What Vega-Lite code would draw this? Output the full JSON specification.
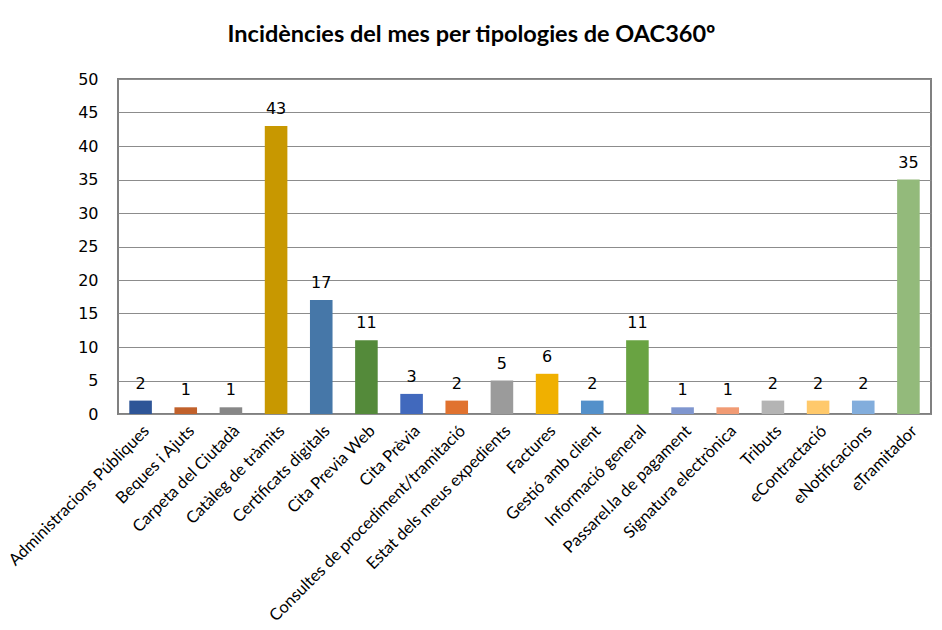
{
  "$schema": "https://vega.github.io/schema/vega-lite/v6.json",
  "width": 813,
  "height": 335,
  "autosize": "none",
  "padding": {"left": 118, "top": 79, "right": 11, "bottom": 216},
  "background": "white",
  "title": {
    "text": "Incidències del mes per tipologies de OAC360º",
    "font": "Lato",
    "fontSize": 23.5,
    "fontWeight": "bold",
    "color": "#000000",
    "anchor": "middle",
    "dx": -53,
    "offset": 25
  },
  "config": {
    "view": {"stroke": "#808080", "strokeWidth": 2},
    "axis": {"domain": false, "ticks": false}
  },
  "data": {
    "values": [
      {"cat": "Administracions Públiques", "v": 2, "c": "#2E5597"},
      {"cat": "Beques i Ajuts", "v": 1, "c": "#C1612B"},
      {"cat": "Carpeta del Ciutadà", "v": 1, "c": "#878787"},
      {"cat": "Catàleg de tràmits", "v": 43, "c": "#C89800"},
      {"cat": "Certificats digitals", "v": 17, "c": "#4677A8"},
      {"cat": "Cita Previa Web", "v": 11, "c": "#548A3A"},
      {"cat": "Cita Prèvia", "v": 3, "c": "#4169BD"},
      {"cat": "Consultes de procediment/tramitació", "v": 2, "c": "#E0722F"},
      {"cat": "Estat dels meus expedients", "v": 5, "c": "#9B9B9B"},
      {"cat": "Factures", "v": 6, "c": "#F0B000"},
      {"cat": "Gestió amb client", "v": 2, "c": "#5390CA"},
      {"cat": "Informació general", "v": 11, "c": "#69A342"},
      {"cat": "Passarel.la de pagament", "v": 1, "c": "#7F96CF"},
      {"cat": "Signatura electrònica", "v": 1, "c": "#F19B74"},
      {"cat": "Tributs", "v": 2, "c": "#B4B4B4"},
      {"cat": "eContractació", "v": 2, "c": "#FFC96B"},
      {"cat": "eNotificacions", "v": 2, "c": "#82ADDC"},
      {"cat": "eTramitador", "v": 35, "c": "#93BA7B"}
    ]
  },
  "encoding": {
    "x": {
      "field": "cat",
      "type": "nominal",
      "sort": null,
      "scale": {"paddingInner": 0.5, "paddingOuter": 0.25},
      "axis": {
        "title": null,
        "labelAngle": -45,
        "labelAlign": "right",
        "labelBaseline": "middle",
        "labelFont": "Lato",
        "labelFontSize": 16.5,
        "labelColor": "#000000",
        "labelPadding": 14,
        "labelOffset": 6,
        "labelLimit": 400,
        "grid": false
      }
    },
    "y": {
      "field": "v",
      "type": "quantitative",
      "scale": {"domain": [0, 50], "nice": false},
      "axis": {
        "title": null,
        "values": [0, 5, 10, 15, 20, 25, 30, 35, 40, 45, 50],
        "labelFont": "DejaVu Sans",
        "labelFontSize": 16,
        "labelColor": "#000000",
        "labelPadding": 20,
        "grid": true,
        "gridColor": "#8C8C8C",
        "gridWidth": 1
      }
    }
  },
  "layer": [
    {
      "mark": {"type": "bar"},
      "encoding": {"color": {"field": "c", "type": "nominal", "scale": null}}
    },
    {
      "mark": {"type": "text", "baseline": "bottom", "dy": -9, "font": "DejaVu Sans", "fontSize": 16, "color": "#000000"},
      "encoding": {"text": {"field": "v", "type": "quantitative"}}
    }
  ]
}
